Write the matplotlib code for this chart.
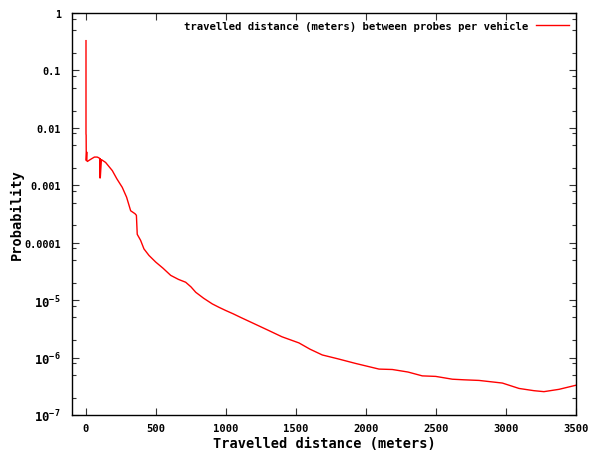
import matplotlib
matplotlib.use("Agg")
import matplotlib.pyplot as plt
from matplotlib.ticker import FixedLocator, FixedFormatter, LogLocator, NullFormatter

# distance (m) vs probability
distance = [0, 0, 1, 2, 5, 6, 10, 20, 40, 60, 80, 93, 98, 99, 101, 102, 110, 140, 188,
            220, 259, 290, 319, 350, 360, 366, 390, 414, 450, 498, 550, 605, 660,
            712, 750, 784, 840, 902, 950, 998, 1050, 1105, 1200, 1300, 1400, 1521,
            1600, 1688, 1800, 1926, 2093, 2188, 2300, 2402, 2498, 2617, 2700, 2807,
            2974, 3093, 3200, 3271, 3379, 3500]
probability = [0.33, 0.0078, 0.0075, 0.0027, 0.0038, 0.0027, 0.0026, 0.0027, 0.0029,
               0.0031, 0.0031, 0.0030, 0.0029, 0.00135, 0.0029, 0.00135, 0.0028,
               0.0025, 0.0018, 0.0013, 0.00092, 0.00062, 0.00036, 0.00032, 0.00030,
               0.00014, 0.00011, 7.8e-5, 6.0e-5, 4.6e-5, 3.6e-5, 2.7e-5, 2.3e-5,
               2.05e-5, 1.7e-5, 1.37e-5, 1.08e-5, 8.6e-6, 7.5e-6, 6.6e-6, 5.8e-6,
               5.0e-6, 3.9e-6, 3.0e-6, 2.3e-6, 1.8e-6, 1.4e-6, 1.11e-6, 9.5e-7,
               7.9e-7, 6.3e-7, 6.2e-7, 5.6e-7, 4.8e-7, 4.7e-7, 4.2e-7, 4.1e-7,
               4.0e-7, 3.6e-7, 2.9e-7, 2.65e-7, 2.55e-7, 2.8e-7, 3.3e-7]

x_ticks = [0, 500, 1000, 1500, 2000, 2500, 3000, 3500]
y_ticks = [1, 0.1, 0.01, 0.001, 0.0001, 1e-5, 1e-6, 1e-7]
y_labels = ["1", "0.1", "0.01", "0.001", "0.0001",
            r"$\mathbf{10^{-5}}$", r"$\mathbf{10^{-6}}$", r"$\mathbf{10^{-7}}$"]

plt.rcParams.update({
    "font.family": "DejaVu Sans Mono",
    "font.weight": "bold",
    "mathtext.fontset": "custom",
    "mathtext.rm": "DejaVu Sans Mono:bold",
    "mathtext.bf": "DejaVu Sans Mono:bold",
    "mathtext.it": "DejaVu Sans Mono:bold",
})

fig = plt.figure(figsize=(5.92, 4.52), dpi=100)
ax = fig.add_axes([72 / 592, 36 / 452, 504 / 592, 402 / 452])

ax.plot(distance, probability, color="#ff0000", lw=1.0,
        label="travelled distance (meters) between probes per vehicle")

ax.set_yscale("log")
ax.set_xlim(-100, 3500)
ax.set_ylim(1e-7, 1)

ax.xaxis.set_major_locator(FixedLocator(x_ticks))
ax.yaxis.set_major_locator(FixedLocator(y_ticks))
ax.yaxis.set_major_formatter(FixedFormatter(y_labels))
ax.yaxis.set_minor_locator(LogLocator(base=10, subs=(2, 5, 8)))
ax.yaxis.set_minor_formatter(NullFormatter())

ax.tick_params(which="both", direction="in", top=True, right=True,
               width=0.8, color="#333333")
ax.tick_params(which="major", length=5)
ax.tick_params(which="minor", length=3)
ax.tick_params(axis="x", pad=6, labelsize=7.6)
ax.tick_params(axis="y", pad=8, labelsize=7.3)
for lbl in ax.get_xticklabels() + ax.get_yticklabels():
    lbl.set_fontweight("bold")
for lbl in ax.get_yticklabels()[5:]:
    lbl.set_fontsize(8.8)
for sp in ax.spines.values():
    sp.set_linewidth(1.0)

fig.text(324 / 592, 1 - 444 / 452, "Travelled distance (meters)", fontsize=9.8,
         fontweight="bold", ha="center", va="center")
fig.text(17 / 592, 1 - 215 / 452, "Probability", fontsize=9.8, fontweight="bold",
         rotation=90, ha="center", va="center")

leg = ax.legend(loc="upper right", frameon=False, fontsize=7.7, handlelength=3.0,
                markerfirst=False, borderaxespad=0.3, handletextpad=0.8)

fig.savefig("out.png", dpi=100)
